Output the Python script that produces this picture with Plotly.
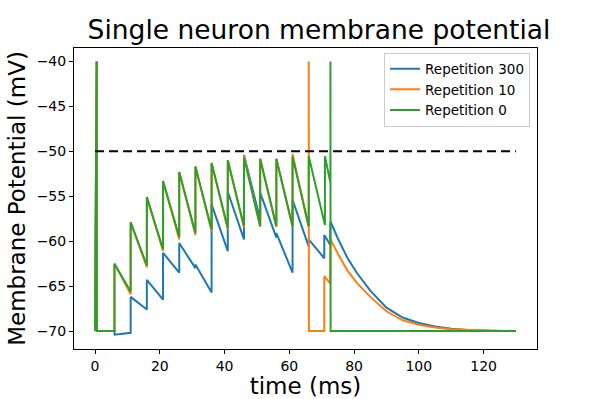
import plotly.graph_objects as go

# time (ms) / membrane potential (mV)
t_rep300 = [0, 0.5, 0.55, 6, 6.05, 11, 11, 16, 16, 21, 21, 26, 26, 31, 31, 36, 36,
            41, 41, 46, 46, 51, 51, 56, 56, 61, 61, 66, 66, 70.8, 70.8, 72.6, 72.7,
            75, 78, 81, 85, 90, 95, 100, 105, 110, 116, 122, 130]
v_rep300 = [-70, -40, -70, -70, -70.4, -70.2, -66.2, -67.6, -64.3, -66.5, -61.3, -63.5, -60.2,
            -63.0, -62.6, -65.7, -55.9, -61.1, -54.5, -59.8, -50.4, -57.6, -54.6, -59.6, -59.1,
            -63.5, -55.4, -60.6, -59.8, -61.9, -59.3, -60.4, -57.8,
            -59.7, -61.9, -63.6, -65.5, -67.4, -68.5, -69.1, -69.5, -69.75, -69.9, -69.95, -70]

t_rep10 = [0, 0.5, 0.55, 6, 6, 11, 11, 16, 16, 21, 21, 26, 26, 31, 31, 36, 36,
           41, 41, 46, 46, 51, 51, 56, 56, 61, 61, 66, 66, 66.05, 70.8, 70.8, 72.6, 72.7,
           75, 78, 81, 85, 90, 95, 100, 105, 110, 116, 122, 130]
v_rep10 = [-70, -40, -70, -70, -62.5, -65.9, -57.9, -62.9, -55.1, -61.1, -53.3, -59.8, -52.3,
           -59.3, -51.7, -58.9, -51.3, -58.7, -51.0, -58.5, -50.5, -58.4, -50.8, -58.4, -50.8,
           -58.4, -50.3, -58.5, -40, -70, -70, -63.9, -64.7, -59.8,
           -61.4, -63.3, -64.7, -66.2, -67.8, -68.8, -69.3, -69.6, -69.8, -69.9, -69.97, -70]

t_rep0 = [0, 0.5, 0.55, 6, 6, 11, 11, 16, 16, 21, 21, 26, 26, 31, 31, 36, 36,
          41, 41, 46, 46, 51, 51, 56, 56, 61, 61, 66, 66, 71, 71, 72.7, 72.7, 72.75, 130]
v_rep0 = [-70, -40, -70, -70, -62.5, -65.6, -57.9, -62.7, -55.1, -60.9, -53.3, -59.5, -52.3,
          -59.1, -51.7, -58.7, -51.3, -58.5, -51.0, -58.35, -50.7, -58.35, -50.85, -58.35, -50.85,
          -58.35, -50.6, -58.35, -50.55, -58.2, -50.55, -53.5, -40, -70, -70]

t_threshold = [0, 130]
v_threshold = [-50, -50]

series = [
    ("Repetition 300", t_rep300, v_rep300, "#1f77b4"),
    ("Repetition 10", t_rep10, v_rep10, "#ff7f0e"),
    ("Repetition 0", t_rep0, v_rep0, "#2ca02c"),
]

fig = go.Figure()
for nome, t, v, cor in series:
    fig.add_trace(go.Scatter(x=t, y=v, mode="lines", name=nome,
                             line=dict(color=cor, width=2)))
fig.add_trace(go.Scatter(x=t_threshold, y=v_threshold, mode="lines", showlegend=False,
                         line=dict(color="black", width=2, dash="9px,5px")))

eixo = dict(showline=True, mirror=True, linecolor="black", linewidth=1,
            ticks="outside", ticklen=4, tickwidth=1, tickcolor="black",
            showgrid=False, zeroline=False, automargin=False,
            tickfont=dict(family="DejaVu Sans", size=14, color="black"))

fig.update_layout(
    width=598, height=399,
    margin=dict(l=74, r=61, t=48, b=50),
    plot_bgcolor="white", paper_bgcolor="white",
    font=dict(family="DejaVu Sans", color="black"),
    title=dict(text="Single neuron membrane potential", x=319 / 598, xref="container",
               xanchor="center", y=1 - 30 / 399, yref="container", yanchor="middle",
               font=dict(size=26.5, color="black")),
    legend=dict(x=0.985, y=0.985, xanchor="right", yanchor="top",
                bgcolor="white", bordercolor="#cccccc", borderwidth=1,
                font=dict(size=13.5), itemwidth=30, tracegroupgap=0),
)
fig.update_xaxes(range=[-6.5, 136.5], tickvals=[0, 20, 40, 60, 80, 100, 120],
                 title=dict(text="time (ms)", font=dict(size=23), standoff=4), **eixo)
fig.update_yaxes(range=[-72, -38.5], tickvals=[-70, -65, -60, -55, -50, -45, -40],
                 title=dict(text="Membrane Potential (mV)", font=dict(size=23), standoff=4), **eixo)

# the page's default body margin would shift the figure by 8 px
fig.write_html("out.html", config={"displayModeBar": False},
               post_script="document.body.style.margin='0';")
